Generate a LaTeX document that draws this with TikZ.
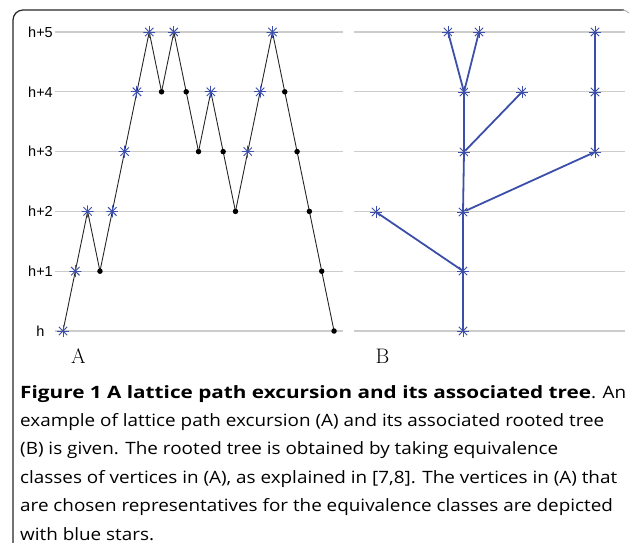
\documentclass[tikz,border=0pt]{standalone}
\usepackage{fontspec}
\newfontfamily\capfont{Open Sans}[FakeStretch=1.11]
\newfontfamily\capbold{Open Sans Bold}[FakeStretch=1.22]
\newfontfamily\lblfont{Liberation Sans}
\usetikzlibrary{backgrounds}

\definecolor{starblue}{RGB}{58,78,170}

\begin{document}
\begin{tikzpicture}[x=1pt, y=-1pt,
    lvl/.style={draw=black!20, line width=1.3pt},
    lvllabel/.style={font=\lblfont\fontsize{14.5}{15}\selectfont, inner sep=0pt},
    panel/.style={font=\fontsize{21}{22}\selectfont, inner sep=0pt},
    vstar/.style={circle, inner sep=0pt, minimum size=12pt,
      path picture={\foreach \a in {0,45,...,315}
        \draw[starblue, line width=0.9pt] (path picture bounding box.center) -- ++(\a:6.5pt);}},
    vdot/.style={circle, fill=black, inner sep=0pt, minimum size=5.5pt},
    pathline/.style={draw=black!85, line width=0.9pt},
    treeline/.style={draw=starblue, line width=1.8pt},
    frame/.style={draw=black!85, line width=1.2pt, rounded corners=10pt}
  ]
  \useasboundingbox (0,0) rectangle (632,543);

  % frame
  \draw[frame] (13,543) -- (13,10) -- (624,10);
  \draw[black!35, line width=0.8pt] (622,10) to[out=0, in=140] (629,13);

  % levels
  \foreach \k/\lab in {0/h, 1/h+1, 2/h+2, 3/h+3, 4/h+4, 5/h+5} {
    \node[lvllabel] (lab\k) at (40.5, {331-59.8*\k}) {\lab};
    \draw[lvl] (55, {331-59.8*\k}) -- (343, {331-59.8*\k});
    \draw[lvl] (354, {331-59.8*\k}) -- (625, {331-59.8*\k});
  }

  % (A) lattice path
  \foreach \h/\kind [count=\i from 0] in {0/vstar, 1/vstar, 2/vstar, 1/vdot, 2/vstar, 3/vstar,
      4/vstar, 5/vstar, 4/vdot, 5/vstar, 4/vdot, 3/vdot, 4/vstar, 3/vdot, 2/vdot, 3/vstar,
      4/vstar, 5/vstar, 4/vdot, 3/vdot, 2/vdot, 1/vdot, 0/vdot}
    \node[\kind] (p\i) at ({63+12.32*\i}, {331-59.8*\h}) {};

  \begin{scope}[on background layer]
    \foreach \i [evaluate=\i as \j using int(\i+1)] in {0,...,21}
      \draw[pathline] (p\i.center) -- (p\j.center);
  \end{scope}

  % (B) rooted tree
  \node[vstar] (root) at (463,331) {};
  \node[vstar] (t1) at (463,271) {};
  \node[vstar] (t2) at (463,212) {};
  \node[vstar] (t2l) at (376,212) {};
  \node[vstar] (t3) at (464,152) {};
  \node[vstar] (t3r) at (595,152) {};
  \node[vstar] (t4) at (464,92) {};
  \node[vstar] (t4m) at (522,92) {};
  \node[vstar] (t4r) at (595,92) {};
  \node[vstar] (t5a) at (448,32) {};
  \node[vstar] (t5b) at (479,32) {};
  \node[vstar] (t5r) at (595,32) {};

  \begin{scope}[on background layer]
    \draw[treeline] (root.center) -- (t1.center) -- (t2.center) -- (t3.center) -- (t4.center);
    \draw[treeline] (t1.center) -- (t2l.center);
    \draw[treeline] (t2.center) -- (t3r.center) -- (t4r.center) -- (t5r.center);
    \draw[treeline] (t3.center) -- (t4m.center);
    \draw[treeline] (t4.center) -- (t5a.center);
    \draw[treeline] (t4.center) -- (t5b.center);
  \end{scope}

  \node[panel] (pa) at (78.5,356.5) {A};
  \node[panel] (pb) at (382.5,356.5) {B};

  % caption
  \node[anchor=north west, align=left, inner sep=0pt,
        font=\capfont\fontsize{17}{28.4}\selectfont] (cap) at (20,385)
    {{\capbold Figure 1 A lattice path excursion and its associated tree}. An\\
     example of lattice path excursion (A) and its associated rooted tree\\
     (B) is given. The rooted tree is obtained by taking equivalence\\
     classes of vertices in (A), as explained in [7,8]. The vertices in (A) that\\
     are chosen representatives for the equivalence classes are depicted\\
     with blue stars.};
\end{tikzpicture}
\end{document}
